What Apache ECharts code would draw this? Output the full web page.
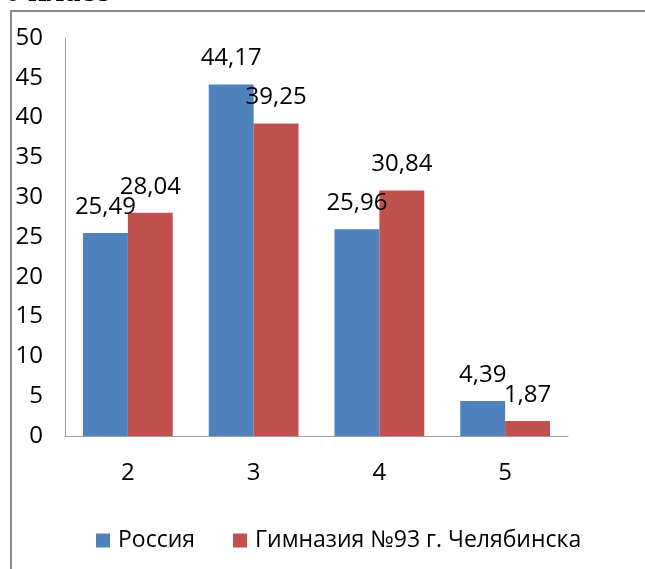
<!DOCTYPE html>
<html>
<head>
<meta charset="utf-8">
<script src="https://cdn.jsdelivr.net/npm/echarts@6/dist/echarts.min.js"></script>
<style>
    html, body { margin: 0; padding: 0; background: #fff; }
    #chart { width: 645px; height: 569px; }
</style>
</head>
<body>
<div id="chart"></div>
<script>
    // данные
    const categories = ['2', '3', '4', '5'];
    const russia = [25.49, 44.17, 25.96, 4.39];
    const gymnasium = [28.04, 39.25, 30.84, 1.87];
    const seriesNames = ['Россия', 'Гимназия №93 г. Челябинска'];

    const font = 'Open Sans';
    const fmt = p => p.value.toFixed(2).replace('.', ',');

    const myChart = echarts.init(document.getElementById('chart'));
    myChart.setOption({
        animation: false,
        title: {
            text: '6 класс',
            left: 4,
            top: -23,
            padding: 0,
            textStyle: {
                fontFamily: 'Liberation Serif',
                fontWeight: 'bold',
                fontSize: 32,
                color: '#000'
            }
        },
        graphic: [{
            type: 'rect',
            shape: { x: 11, y: 11, width: 700, height: 700 },
            style: { fill: 'none', stroke: '#8a8a8a', lineWidth: 2 },
            silent: true
        }],
        grid: {
            left: 65,
            right: 77,
            top: 38,
            bottom: 133
        },
        legend: {
            data: seriesNames,
            left: 91,
            top: 524,
            itemWidth: 14,
            itemHeight: 14,
            itemGap: 38,
            icon: 'rect',
            textStyle: {
                fontFamily: font,
                fontSize: 23,
                color: '#000',
                padding: [0, 0, 0, 3]
            }
        },
        xAxis: {
            type: 'category',
            data: categories,
            axisLine: { lineStyle: { color: '#a0a0a0', width: 1 } },
            axisTick: { show: false },
            axisLabel: {
                color: '#000',
                fontFamily: font,
                fontSize: 24,
                margin: 25
            }
        },
        yAxis: {
            type: 'value',
            min: 0,
            max: 50,
            interval: 5,
            splitLine: { show: false },
            axisLine: { show: true, lineStyle: { color: '#a0a0a0', width: 1 } },
            axisTick: { show: false },
            axisLabel: {
                color: '#000',
                fontFamily: font,
                fontSize: 24,
                margin: 22
            }
        },
        series: [
            {
                name: seriesNames[0],
                type: 'bar',
                data: russia,
                barGap: '0%',
                barCategoryGap: '28.6%',
                itemStyle: { color: '#4f81bd' },
                label: {
                    show: true,
                    position: 'top',
                    distance: 14,
                    formatter: fmt,
                    color: '#000',
                    fontFamily: font,
                    fontSize: 24
                }
            },
            {
                name: seriesNames[1],
                type: 'bar',
                data: gymnasium,
                barGap: '0%',
                barCategoryGap: '28.6%',
                itemStyle: { color: '#c0504d' },
                label: {
                    show: true,
                    position: 'top',
                    distance: 14,
                    formatter: fmt,
                    color: '#000',
                    fontFamily: font,
                    fontSize: 24
                }
            }
        ]
    });
</script>
</body>
</html>
